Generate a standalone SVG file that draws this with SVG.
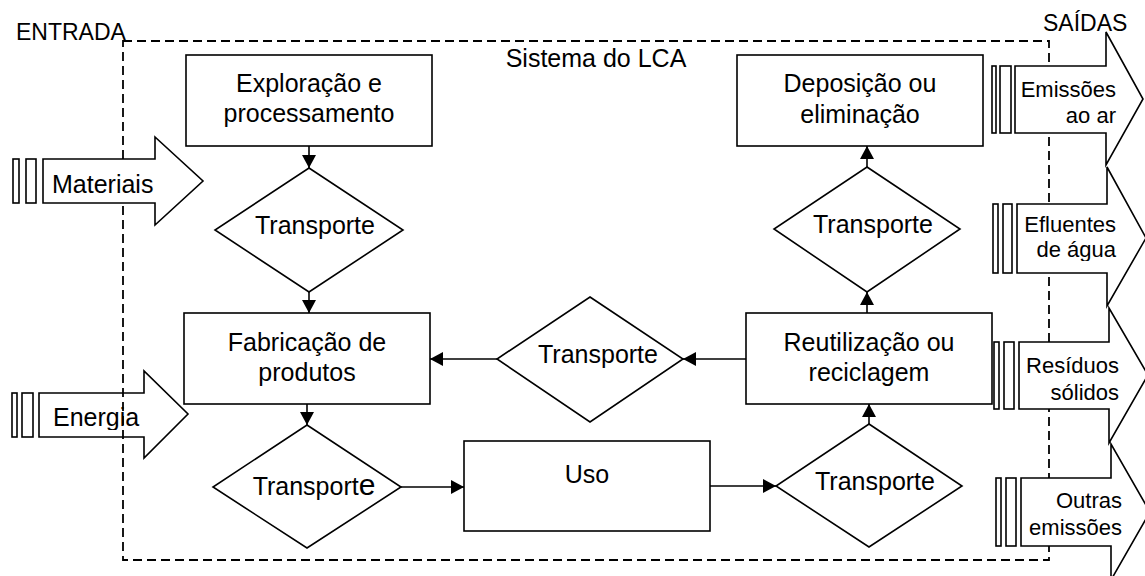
<svg xmlns="http://www.w3.org/2000/svg" width="1145" height="576" viewBox="0 0 1145 576">
<style>
.s{fill:#fff;stroke:#000;stroke-width:1.6}
.t{font-family:"Liberation Sans",Arial,sans-serif;font-size:25px;fill:#000;text-anchor:middle}
.o{font-family:"Liberation Sans",Arial,sans-serif;font-size:22px;fill:#000;text-anchor:end}
.l{font-family:"Liberation Sans",Arial,sans-serif;fill:#000}
.c{fill:none;stroke:#000;stroke-width:1.6;marker-end:url(#ah)}
.d{fill:none;stroke:#000;stroke-width:1.8;stroke-dasharray:9,5}
</style>
<defs>
<marker id="ah" markerUnits="userSpaceOnUse" markerWidth="13" markerHeight="14" refX="13" refY="7" orient="auto">
<path d="M0,0 L13,7 L0,14 z" fill="#000"/>
</marker>
<clipPath id="ce"><rect x="39" y="393" width="105" height="37"/></clipPath>
<clipPath id="cw"><rect x="1017" y="204" width="120" height="57"/></clipPath>
</defs>

<g id="in-energia">
<rect class="s" x="12" y="393" width="5" height="44"/>
<rect class="s" x="22" y="393" width="11" height="44"/>
<polygon class="s" points="39,393 144,393 144,371 188,414 144,458 144,437 39,437"/>
<text class="l" x="53" y="426" font-size="25" clip-path="url(#ce)">Energia</text>
</g>

<rect id="system" class="d" x="123" y="41" width="926" height="519"/>
<text class="l" x="16" y="40" font-size="23">ENTRADA</text>
<text class="l" x="1043" y="31" font-size="23">SAÍDAS</text>
<text class="t" x="596" y="67" font-size="21">Sistema do LCA</text>

<g id="in-materiais">
<rect class="s" x="13" y="159" width="6" height="44"/>
<rect class="s" x="26" y="159" width="10" height="44"/>
<polygon class="s" points="43,159 155,159 155,137 203,181 155,225 155,203 43,203"/>
<text class="l" x="52" y="193" font-size="25">Materiais</text>
</g>

<g id="out-ar">
<rect class="s" x="992" y="66" width="4" height="67"/>
<rect class="s" x="1000" y="66" width="11" height="67"/>
<polygon class="s" points="1015,66 1106,66 1106,32 1143,99 1106,165 1106,133 1015,133"/>
<text class="o" x="1116" y="97">Emissões</text>
<text class="o" x="1116" y="123">ao ar</text>
</g>
<g id="out-agua">
<rect class="s" x="993" y="204" width="5" height="69"/>
<rect class="s" x="1003" y="204" width="9" height="69"/>
<polygon class="s" points="1017,204 1107,204 1107,167 1146,238 1107,306 1107,273 1017,273"/>
<text class="o" x="1116" y="232">Efluentes</text>
<text class="o" x="1116" y="257" clip-path="url(#cw)">de água</text>
</g>
<g id="out-solidos">
<rect class="s" x="994" y="342" width="5" height="67"/>
<rect class="s" x="1004" y="342" width="10" height="67"/>
<polygon class="s" points="1019,342 1109,342 1109,308 1148,375 1109,443 1109,409 1019,409"/>
<text class="o" x="1119" y="373">Resíduos</text>
<text class="o" x="1119" y="400">sólidos</text>
</g>
<g id="out-outras">
<rect class="s" x="996" y="478" width="5" height="68"/>
<rect class="s" x="1006" y="478" width="10" height="68"/>
<polygon class="s" points="1021,478 1111,478 1111,444 1150,512 1111,580 1111,546 1021,546"/>
<text class="o" x="1122" y="508">Outras</text>
<text class="o" x="1122" y="535">emissões</text>
</g>

<g id="exploracao">
<rect class="s" x="186" y="55" width="246" height="91"/>
<text class="t" x="309" y="92">Exploração e</text>
<text class="t" x="309" y="122">processamento</text>
</g>
<g id="transp1">
<polygon class="s" points="309,168 403,230 309,292 215,230"/>
<text class="t" x="315" y="234">Transporte</text>
</g>
<g id="fabricacao">
<rect class="s" x="184" y="313" width="246" height="91"/>
<text class="t" x="307" y="351">Fabricação de</text>
<text class="t" x="307" y="381">produtos</text>
</g>
<g id="transp3">
<polygon class="s" points="307,425 401,487 307,548 213,487"/>
<text class="t" x="314" y="495">Transport<tspan font-size="30">e</tspan></text>
</g>
<g id="uso">
<rect class="s" x="464" y="441" width="246" height="90"/>
<text class="t" x="587" y="483" font-size="28">Uso</text>
</g>
<g id="transp4">
<polygon class="s" points="869,424 962,486 869,547 776,486"/>
<text class="t" x="875" y="490">Transporte</text>
</g>
<g id="reutilizacao">
<rect class="s" x="746" y="313" width="246" height="91"/>
<text class="t" x="869" y="351">Reutilização ou</text>
<text class="t" x="869" y="381">reciclagem</text>
</g>
<g id="transp-mid">
<polygon class="s" points="590,297 683,359 590,422 497,359"/>
<text class="t" x="598" y="363">Transporte</text>
</g>
<g id="transp2">
<polygon class="s" points="867,167 960,229 867,292 774,229"/>
<text class="t" x="873" y="233">Transporte</text>
</g>
<g id="deposicao">
<rect class="s" x="737" y="55" width="246" height="91"/>
<text class="t" x="860" y="92">Deposição ou</text>
<text class="t" x="860" y="123">eliminação</text>
</g>

<g id="connectors">
<line class="c" x1="309" y1="146" x2="309" y2="168"/>
<line class="c" x1="309" y1="292" x2="309" y2="313"/>
<line class="c" x1="307" y1="404" x2="307" y2="425"/>
<line class="c" x1="401" y1="487" x2="464" y2="487"/>
<line class="c" x1="710" y1="486" x2="776" y2="486"/>
<line class="c" x1="869" y1="424" x2="869" y2="404"/>
<line class="c" x1="746" y1="359" x2="683" y2="359"/>
<line class="c" x1="497" y1="359" x2="430" y2="359"/>
<line class="c" x1="867" y1="313" x2="867" y2="292"/>
<line class="c" x1="867" y1="167" x2="867" y2="146"/>
</g>
</svg>
